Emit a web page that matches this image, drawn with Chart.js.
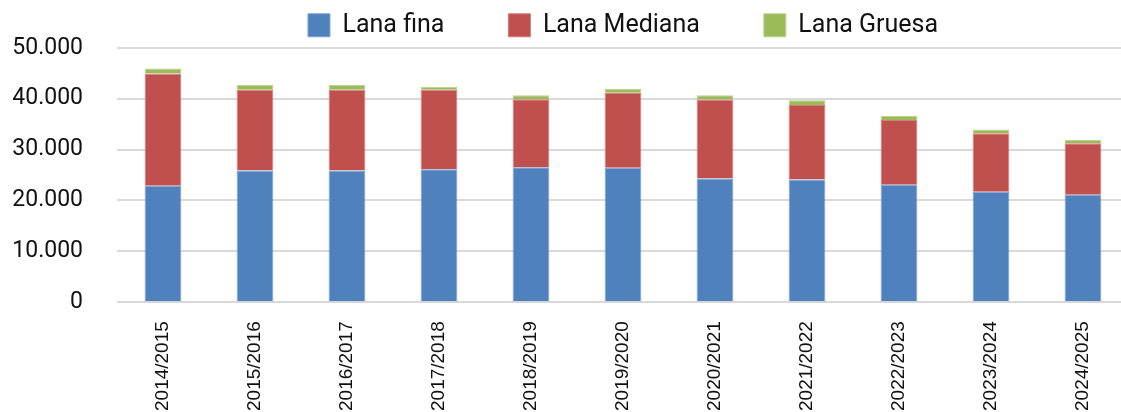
<!DOCTYPE html>
<html>
<head>
<meta charset="utf-8">
<script src="https://cdn.jsdelivr.net/npm/chart.js@4"></script>
<style>
  html, body { margin: 0; padding: 0; background: #fff; overflow: hidden; }
  #wrap { width: 1130px; height: 412px; }
</style>
</head>
<body>
<div id="wrap"><canvas id="chart" width="1130" height="412"></canvas></div>
<script>
/* Stacked wool production by campaign: fine / medium / coarse. */

const campaigns = ['2014/2015', '2015/2016', '2016/2017', '2017/2018', '2018/2019', '2019/2020',
                   '2020/2021', '2021/2022', '2022/2023', '2023/2024', '2024/2025'];
const lanaFina    = [22900, 25900, 25900, 26150, 26500, 26400, 24300, 24100, 23100, 21700, 21100];
const lanaMediana = [22050, 15850, 15850, 15600, 13400, 14750, 15550, 14650, 12700, 11500, 10150];
const lanaGruesa  = [1000, 950, 950, 600, 750, 750, 800, 950, 800, 750, 650];
const yTicks = [0, 10000, 20000, 30000, 40000, 50000];

const thousands = v => String(v).replace(/\B(?=(\d{3})+(?!\d))/g, '.');

const bar = (label, data, color, edge) => ({
  label, data,
  backgroundColor: color,
  borderColor: edge,
  borderWidth: 1,
  barPercentage: 0.4,
  categoryPercentage: 1,
});

new Chart(document.getElementById('chart'), {
  type: 'bar',
  data: {
    labels: campaigns,
    datasets: [
      bar('Lana fina', lanaFina, '#4f81bd', '#7fa2cf'),
      bar('Lana Mediana', lanaMediana, '#c0504d', '#d07d7b'),
      bar('Lana Gruesa', lanaGruesa, '#9bbb59', '#bcd28e'),
    ],
  },
  options: {
    responsive: false,
    animation: false,
    // negative top + capped legend height: lets the legend keep wide item gaps
    layout: { padding: { left: 0, right: 1, top: -54, bottom: -18 } },
    plugins: {
      tooltip: { enabled: false },
      legend: {
        position: 'top',
        fullSize: false,
        maxHeight: 108,
        labels: {
          boxWidth: 22,
          boxHeight: 23,
          padding: 64,
          color: '#111',
          font: { family: 'Roboto', size: 25 },
        },
      },
    },
    scales: {
      x: {
        stacked: true,
        grid: { display: false, drawTicks: false },
        border: { display: false },
        ticks: {
          minRotation: 90, maxRotation: 90,
          padding: 19,
          color: '#111',
          font: { family: 'Liberation Sans', size: 19 },
        },
      },
      y: {
        stacked: true,
        min: 0, max: 50000,
        afterFit: s => { s.width = 117; },
        afterBuildTicks: s => { s.ticks = yTicks.map(value => ({ value })); },
        grid: { color: '#d9d9d9', lineWidth: 2, drawTicks: false },
        border: { display: false },
        ticks: {
          padding: 34,
          color: '#111',
          font: { family: 'Roboto', size: 23 },
          callback: v => thousands(v),
        },
      },
    },
  },
});
</script>
</body>
</html>
